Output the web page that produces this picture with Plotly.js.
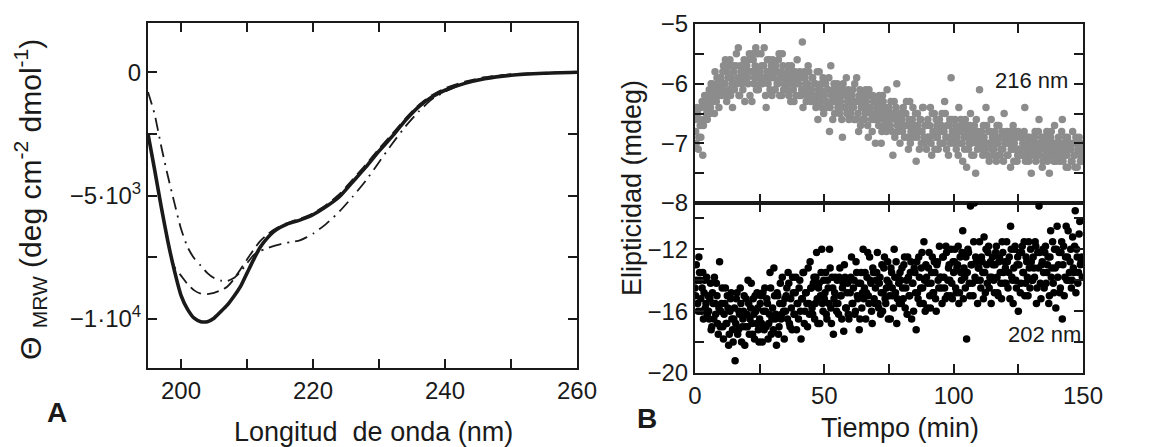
<!DOCTYPE html>
<html>
<head>
<meta charset="utf-8">
<script src="https://cdn.plot.ly/plotly-3.0.1.min.js"></script>
<style>html,body{margin:0;padding:0;background:#fff;}#chart{width:1154px;height:447px;}</style>
</head>
<body>
<div id="chart"></div>
<script>
// ---------- Panel A: CD spectra ----------
const wavelength = [195,196,197,198,199,200,201,202,203,204,205,206,207,208,209,210,211,212,213,214,215,216,217,218,219,220,222,224,226,228,230,232,234,236,238,240,243,246,250,255,260];
const spectrumSolid = [-2500,-3950,-5450,-6850,-8050,-9050,-9620,-9980,-10120,-10120,-9980,-9720,-9450,-9100,-8700,-8150,-7600,-7100,-6750,-6480,-6300,-6170,-6080,-6000,-5900,-5780,-5450,-5050,-4450,-3850,-3200,-2600,-1950,-1400,-1000,-730,-450,-260,-120,-40,0];
const spectrumDashed = [-2500,-3950,-5450,-6850,-7900,-8250,-8600,-8850,-8980,-9000,-8950,-8850,-8700,-8400,-8000,-7600,-7200,-6850,-6600,-6400,-6250,-6130,-6030,-5950,-5850,-5720,-5380,-4950,-4350,-3750,-3100,-2500,-1880,-1330,-930,-650,-380,-200,-80,-20,0];
const spectrumDashDot = [-800,-1700,-3000,-4200,-5300,-6350,-7100,-7550,-7850,-8150,-8350,-8450,-8470,-8350,-8100,-7750,-7420,-7250,-7150,-7050,-6980,-6920,-6880,-6820,-6700,-6550,-6150,-5650,-5050,-4400,-3650,-2900,-2200,-1600,-1100,-780,-450,-230,-100,-30,0];

const xRangeA = [195,260];
const yRangeA = [-12000,2000];
const xTicksA = [200,210,220,230,240,250,260];
const xTickTextA = ["200","","220","","240","","260"];
const yTicksA = [0,-2500,-5000,-7500,-10000];
const yTickTextA = ["0","","\u22125\u00b710<sup>3</sup>","","\u22121\u00b710<sup>4</sup>"];

// ---------- Panel B: kinetics ----------
const SAMPLE_STEP_MIN = 0.5;
const ellip216a = [
-6.6,-7.0,-6.5,-6.9,-6.7,-6.4,-7.2,-6.6,-6.3,-6.5,
-6.3,-6.1,-6.4,-6.0,-6.2,-6.5,-6.1,-5.9,-6.2,-6.1,
-5.9,-6.1,-5.7,-6.0,-6.2,-5.8,-6.1,-5.6,-5.9,-6.4,
-5.8,-6.0,-5.5,-5.9,-6.2,-5.7,-5.9,-6.1,-5.6,-5.8,
-5.7,-6.0,-5.5,-5.8,-6.3,-5.6,-5.9,-5.4,-5.8,-6.1,
-5.8,-5.5,-6.0,-5.7,-5.9,-6.4,-5.6,-5.8,-6.1,-5.7,
-5.6,-5.9,-6.1,-5.8,-6.0,-5.5,-5.9,-6.2,-5.7,-6.0,
-5.9,-6.1,-5.7,-6.0,-6.3,-5.8,-6.1,-5.9,-6.2,-5.6,
-6.0,-5.8,-6.2,-5.3,-6.1,-5.9,-6.3,-6.0,-5.8,-6.2,
-6.1,-5.9,-6.3,-6.0,-6.2,-6.6,-5.8,-6.1,-6.4,-5.9,
-6.2,-6.0,-6.4,-6.1,-6.8,-5.7,-6.3,-6.1,-6.5,-6.2,
-6.0,-6.3,-6.5,-6.2,-6.9,-6.1,-6.4,-5.9,-6.3,-6.6,
-6.2,-6.4,-6.1,-6.6,-6.3,-5.9,-6.5,-6.2,-6.7,-6.4,
-6.3,-6.6,-6.1,-6.4,-6.9,-6.2,-6.5,-6.8,-6.3,-6.6,
-6.5,-6.3,-6.7,-6.4,-7.0,-6.2,-6.6,-6.4,-6.8,-6.5,
-6.4,-6.7,-6.5,-7.2,-6.3,-6.6,-6.0,-6.8,-6.5,-6.7,
-6.6,-6.4,-6.9,-6.5,-6.7,-7.1,-6.3,-6.8,-6.6,-6.9,
-6.7,-7.3,-6.5,-6.8,-6.6,-7.0,-6.4,-6.9,-6.7,-7.1,
-6.6,-6.9,-6.4,-7.2,-6.8,-6.5,-6.9,-6.7,-7.1,-6.6,
-6.8,-6.5,-7.0,-6.3,-6.9,-6.7,-7.2,-6.6,-5.9,-6.8,
-6.9,-6.6,-7.1,-6.8,-6.4,-7.0,-6.7,-7.3,-6.9,-6.6,
-7.4,-6.8,-7.0,-6.5,-7.2,-6.9,-6.7,-7.5,-7.0,-6.8,
-6.1,-6.9,-7.1,-6.7,-7.0,-6.4,-7.2,-6.8,-7.0,-6.6,
-6.9,-7.1,-6.8,-7.3,-7.0,-6.7,-7.2,-6.9,-7.1,-6.5,
-7.0,-6.8,-7.2,-6.9,-7.4,-7.1,-6.7,-7.0,-6.8,-7.3,
-6.8,-7.1,-6.9,-7.2,-7.0,-6.4,-7.1,-6.9,-7.3,-7.0,
-7.5,-6.9,-7.1,-6.8,-7.2,-7.0,-6.6,-7.1,-6.9,-7.3,
-7.0,-7.2,-6.8,-7.1,-7.5,-6.9,-7.2,-7.0,-6.7,-7.3,
-7.1,-6.9,-7.3,-7.0,-6.6,-7.2,-7.0,-7.4,-6.9,-7.1,
-7.0,-7.3,-6.8,-7.2,-7.4,-7.0,-7.1,-6.9,-7.3,-7.1
];
const ellip216b = [
-6.8,-6.4,-7.1,-6.6,-6.9,-6.3,-6.7,-6.2,-6.4,-6.6,
-6.2,-6.5,-6.0,-6.3,-6.1,-5.8,-6.3,-6.0,-6.4,-5.9,
-6.2,-5.8,-6.0,-5.6,-6.3,-5.9,-5.7,-6.2,-6.0,-5.7,
-6.1,-5.7,-6.0,-5.4,-6.2,-5.8,-6.0,-5.7,-6.3,-5.9,
-5.9,-5.6,-6.2,-5.8,-5.5,-6.0,-5.7,-6.1,-5.5,-5.9,
-6.0,-5.7,-5.9,-5.4,-6.2,-5.8,-6.0,-5.6,-5.9,-6.2,
-5.8,-6.1,-5.7,-6.0,-5.6,-6.2,-5.8,-5.5,-6.1,-5.9,
-6.1,-5.8,-6.2,-5.9,-5.7,-6.0,-6.3,-5.8,-6.0,-5.9,
-6.2,-5.9,-6.1,-6.4,-5.8,-6.0,-6.2,-5.7,-6.1,-6.3,
-5.9,-6.2,-6.0,-6.4,-5.8,-6.1,-6.3,-6.0,-6.2,-6.5,
-6.0,-6.3,-6.1,-5.9,-6.4,-6.2,-6.6,-6.0,-6.3,-6.1,
-6.4,-6.1,-6.3,-6.6,-6.0,-6.4,-6.2,-6.5,-6.1,-6.3,
-6.5,-6.2,-6.4,-6.0,-6.6,-6.3,-6.8,-6.1,-6.4,-6.6,
-6.2,-6.5,-6.3,-6.7,-6.1,-6.4,-6.6,-6.2,-6.5,-7.0,
-6.4,-6.6,-6.2,-6.5,-6.8,-6.3,-6.7,-6.5,-6.1,-6.6,
-6.6,-6.3,-6.8,-6.5,-6.9,-6.4,-6.7,-6.5,-7.0,-6.6,
-6.8,-6.5,-6.7,-6.3,-6.9,-6.6,-7.0,-6.7,-6.4,-6.8,
-6.5,-6.9,-6.7,-7.1,-6.6,-6.8,-6.4,-7.0,-6.7,-6.9,
-6.9,-6.7,-7.0,-6.5,-6.8,-7.1,-6.6,-6.9,-6.8,-7.0,
-6.7,-7.0,-6.8,-6.5,-7.1,-6.9,-6.7,-7.0,-6.6,-6.9,
-7.0,-6.7,-6.9,-7.2,-6.8,-6.6,-7.0,-6.8,-7.1,-6.7,
-6.9,-7.1,-6.7,-7.0,-6.8,-7.2,-6.9,-6.6,-7.1,-6.9,
-7.0,-6.8,-7.2,-6.9,-7.1,-6.7,-7.0,-7.3,-6.8,-7.1,
-7.2,-6.9,-7.0,-6.7,-7.2,-6.9,-7.1,-6.8,-7.3,-7.0,
-6.9,-7.2,-7.0,-6.8,-7.1,-6.9,-7.3,-7.1,-6.9,-7.2,
-7.1,-6.9,-7.2,-7.0,-6.8,-7.3,-7.0,-7.2,-6.9,-7.1,
-7.2,-7.0,-6.9,-7.3,-7.1,-6.8,-7.2,-7.0,-7.4,-6.9,
-7.1,-6.9,-7.3,-7.0,-7.2,-6.8,-7.1,-7.3,-7.0,-7.2,
-7.2,-7.0,-7.1,-6.8,-7.3,-7.1,-6.9,-7.2,-7.4,-7.0,
-7.1,-7.3,-7.0,-7.2,-6.9,-7.4,-7.1,-7.2,-7.0,-7.3
];
const ellip202a = [
-14.5,-13.0,-15.5,-12.5,-14.0,-16.0,-13.5,-14.8,-15.8,-13.8,
-15.0,-16.5,-14.2,-17.0,-15.5,-13.8,-16.2,-15.0,-17.5,-12.8,
-16.0,-14.5,-17.8,-15.5,-16.8,-15.0,-18.2,-16.0,-14.8,-17.2,
-16.5,-19.2,-15.2,-17.5,-16.0,-14.5,-18.0,-16.5,-15.0,-17.0,
-16.2,-14.0,-17.5,-15.8,-16.8,-15.2,-17.8,-16.0,-14.8,-17.2,
-16.5,-15.0,-18.0,-16.0,-14.5,-17.0,-15.5,-16.8,-13.5,-17.5,
-15.8,-13.2,-16.5,-18.2,-15.0,-17.0,-14.2,-16.2,-15.5,-17.8,
-16.0,-14.5,-13.5,-16.8,-15.2,-17.2,-14.8,-16.2,-13.8,-15.5,
-16.5,-14.0,-17.8,-15.2,-13.5,-16.0,-14.8,-17.0,-15.5,-12.8,
-14.5,-16.2,-13.8,-15.5,-12.2,-16.8,-14.2,-15.0,-12.0,-16.0,
-15.2,-13.5,-16.5,-14.5,-12.0,-15.8,-13.8,-17.5,-14.8,-15.5,
-14.0,-16.2,-13.2,-15.0,-14.5,-17.3,-13.8,-15.8,-14.2,-16.5,
-14.8,-12.5,-15.5,-14.0,-16.0,-13.5,-15.2,-17.2,-14.2,-15.8,
-12.0,-14.5,-16.5,-13.8,-15.0,-12.5,-14.2,-16.8,-13.5,-15.5,
-14.0,-12.2,-15.8,-13.8,-14.8,-16.0,-13.2,-15.2,-14.5,-12.8,
-14.2,-16.5,-13.5,-15.0,-12.0,-14.8,-16.8,-13.8,-15.5,-14.0,
-13.2,-15.2,-12.5,-14.5,-16.2,-13.8,-15.0,-12.8,-14.2,-16.0,
-13.5,-17.2,-14.8,-12.5,-15.5,-13.2,-14.5,-11.5,-16.0,-13.8,
-14.2,-12.2,-15.8,-13.5,-14.8,-12.8,-15.2,-13.0,-14.0,-11.8,
-13.8,-15.5,-12.5,-14.5,-11.8,-15.0,-13.2,-14.0,-12.0,-15.2,
-13.5,-12.0,-14.8,-13.0,-15.5,-12.5,-14.0,-10.8,-13.2,-14.5,
-17.8,-12.0,-14.2,-9.2,-13.0,-15.0,-9.0,-12.5,-14.0,-13.2,
-11.5,-14.5,-12.8,-15.2,-13.5,-12.0,-14.2,-11.8,-13.8,-15.5,
-12.5,-14.0,-13.0,-11.8,-14.8,-12.8,-13.5,-15.2,-12.2,-14.2,
-13.2,-11.5,-14.5,-12.5,-10.5,-13.8,-15.5,-12.0,-14.0,-13.0,
-16.0,-12.2,-14.2,-11.8,-13.5,-15.0,-12.5,-13.8,-11.5,-14.5,
-12.8,-14.0,-13.2,-11.5,-15.5,-12.2,-9.2,-14.2,-13.0,-12.0,
-14.5,-11.8,-13.5,-12.5,-15.0,-10.8,-13.2,-14.2,-12.0,-15.8,
-10.5,-13.0,-14.8,-12.2,-16.5,-11.8,-13.8,-10.5,-12.5,-14.0,
-12.8,-14.5,-11.2,-13.5,-9.5,-12.0,-14.2,-11.0,-13.0,-12.5
];
const ellip202b = [
-15.0,-14.0,-16.0,-13.5,-15.2,-14.5,-16.5,-14.0,-15.5,-16.2,
-16.0,-15.2,-17.2,-14.8,-16.5,-15.5,-14.2,-16.8,-15.8,-17.0,
-15.5,-17.0,-16.2,-14.5,-16.8,-15.8,-17.5,-15.2,-16.5,-18.0,
-15.8,-16.8,-14.8,-17.2,-16.2,-15.5,-17.0,-16.0,-18.2,-15.2,
-17.0,-15.5,-16.5,-14.2,-17.5,-16.2,-15.0,-16.8,-15.8,-18.0,
-15.5,-16.8,-14.8,-17.2,-16.0,-15.2,-17.8,-16.2,-14.5,-16.5,
-17.2,-15.0,-16.2,-14.8,-17.5,-15.5,-16.5,-13.8,-16.0,-15.2,
-15.0,-16.5,-14.2,-17.0,-15.8,-13.8,-16.2,-14.8,-17.2,-15.5,
-14.5,-16.0,-15.2,-13.5,-16.8,-14.8,-15.5,-13.2,-16.2,-14.5,
-15.8,-14.2,-16.5,-13.8,-15.2,-14.5,-16.8,-13.5,-15.5,-14.0,
-14.8,-16.2,-14.0,-15.5,-13.2,-16.8,-14.5,-15.2,-13.8,-16.0,
-15.5,-13.8,-15.0,-16.5,-14.2,-13.0,-15.8,-14.8,-16.2,-14.0,
-13.8,-15.5,-14.5,-16.2,-12.8,-15.0,-14.2,-16.5,-13.5,-14.8,
-15.2,-13.5,-14.8,-12.2,-15.5,-14.0,-16.0,-13.2,-15.2,-14.5,
-13.5,-15.5,-14.2,-16.2,-13.0,-14.8,-12.5,-15.5,-14.0,-16.5,
-15.0,-13.2,-14.5,-15.8,-13.8,-12.8,-15.2,-14.2,-13.5,-15.5,
-14.5,-13.0,-15.8,-14.0,-12.5,-15.0,-13.5,-16.5,-14.2,-13.2,
-14.8,-12.8,-15.2,-13.8,-14.5,-12.2,-15.5,-14.0,-13.0,-15.8,
-13.2,-15.0,-14.2,-12.5,-14.8,-13.5,-16.0,-12.8,-14.5,-13.8,
-14.5,-12.5,-13.8,-15.2,-12.2,-14.0,-13.0,-15.0,-14.2,-12.8,
-12.8,-14.5,-13.2,-11.8,-14.8,-13.5,-12.2,-15.2,-13.8,-12.5,
-13.5,-12.2,-15.0,-13.0,-14.2,-11.5,-13.8,-12.8,-15.5,-13.2,
-14.0,-12.5,-13.5,-11.2,-14.8,-13.0,-12.2,-14.5,-12.8,-13.8,
-13.0,-14.8,-12.2,-13.8,-15.0,-12.5,-14.2,-11.5,-13.5,-12.8,
-14.2,-12.8,-13.5,-15.2,-12.0,-14.0,-13.2,-11.8,-14.5,-12.5,
-13.0,-14.8,-12.2,-13.5,-11.5,-14.2,-12.8,-15.0,-13.2,-12.0,
-14.0,-12.5,-13.8,-11.8,-14.5,-13.2,-12.2,-15.2,-12.8,-13.5,
-12.2,-14.2,-13.0,-15.5,-12.5,-13.8,-11.5,-14.8,-13.2,-12.0,
-13.8,-12.2,-14.5,-11.5,-13.0,-15.0,-12.5,-14.0,-10.8,-13.5,
-12.0,-14.0,-13.2,-11.8,-14.8,-12.5,-13.5,-10.2,-12.8,-13.8
];
const xRangeB = [0,150];
const yRangeTop = [-8,-5];
const yRangeBot = [-20,-9];
const xTicksB = [0,25,50,75,100,125,150];
const xTickTextB = ["0","","50","","100","","150"];
const yTicksTop = [-5,-5.5,-6,-6.5,-7,-7.5,-8];
const yTickTextTop = ["\u22125","","\u22126","","\u22127","","\u22128"];
const yTicksBot = [-10,-12,-14,-16,-18,-20];
const yTickTextBot = ["","\u221212","","\u221216","","\u221220"];

// two interleaved acquisitions, each sampled every SAMPLE_STEP_MIN minutes
const timesA = arr => arr.map((_, i) => i * SAMPLE_STEP_MIN);
const timesB = arr => arr.map((_, i) => i * SAMPLE_STEP_MIN + SAMPLE_STEP_MIN / 2);

const FONT = "Liberation Sans, Arial, Helvetica, sans-serif";
const INK = "#1a1a1a";
const W = 1154, H = 447;
const px = x => x / W;
const py = y => (H - y) / H;

const traces = [
  {x: wavelength, y: spectrumDashDot, xaxis:'x', yaxis:'y', mode:'lines',
   line:{color:INK, width:1.8, dash:'13px,6px,2px,6px', shape:'spline', smoothing:0.6}},
  {x: wavelength, y: spectrumDashed, xaxis:'x', yaxis:'y', mode:'lines',
   line:{color:INK, width:1.8, dash:'12px,6px', shape:'spline', smoothing:0.6}},
  {x: wavelength, y: spectrumSolid, xaxis:'x', yaxis:'y', mode:'lines',
   line:{color:INK, width:3.6, shape:'spline', smoothing:0.6}},
  {x: timesA(ellip216a).concat(timesB(ellip216b)), y: ellip216a.concat(ellip216b),
   xaxis:'x2', yaxis:'y2', mode:'markers', marker:{color:'#8c8c8c', size:7.5}},
  {x: timesA(ellip202a).concat(timesB(ellip202b)), y: ellip202a.concat(ellip202b),
   xaxis:'x3', yaxis:'y3', mode:'markers', marker:{color:'#000000', size:7.5}}
];

const axBase = {
  showgrid:false, zeroline:false, showline:true, linecolor:INK, linewidth:2,
  mirror:'allticks', ticks:'inside', ticklen:9, tickwidth:2, tickcolor:INK,
  tickmode:'array', tickfont:{family:FONT, size:24, color:INK}, fixedrange:true
};

const layout = {
  width:W, height:H, margin:{l:0,r:0,t:0,b:0},
  paper_bgcolor:'#ffffff', plot_bgcolor:'rgba(0,0,0,0)', showlegend:false,
  font:{family:FONT, color:INK},
  xaxis: Object.assign({}, axBase, {domain:[px(148), px(577)], range:xRangeA, anchor:'y',
          tickvals:xTicksA, ticktext:xTickTextA}),
  yaxis: Object.assign({}, axBase, {domain:[py(368), py(23)], range:yRangeA, anchor:'x',
          tickvals:yTicksA, ticktext:yTickTextA}),
  xaxis2: Object.assign({}, axBase, {domain:[px(695), px(1083)], range:xRangeB, anchor:'y2',
          tickvals:xTicksB, ticktext:xTickTextB, showticklabels:false}),
  yaxis2: Object.assign({}, axBase, {domain:[py(203), py(24)], range:yRangeTop, anchor:'x2',
          tickvals:yTicksTop, ticktext:yTickTextTop}),
  xaxis3: Object.assign({}, axBase, {domain:[px(695), px(1083)], range:xRangeB, anchor:'y3',
          tickvals:xTicksB, ticktext:xTickTextB}),
  yaxis3: Object.assign({}, axBase, {domain:[py(373), py(203)], range:yRangeBot, anchor:'x3',
          tickvals:yTicksBot, ticktext:yTickTextBot}),
  annotations: [
    {xref:'paper', yref:'paper', x:px(30), y:py(200), textangle:-90, showarrow:false,
     xanchor:'center', yanchor:'middle',
     text:'\u0398 <sub>MRW</sub> (deg cm<sup>-2</sup> dmol<sup>-1</sup>)',
     font:{family:FONT, size:30, color:INK}},
    {xref:'paper', yref:'paper', x:px(373), y:py(432), showarrow:false,
     xanchor:'center', yanchor:'middle', text:'Longitud&nbsp;&nbsp;de onda (nm)',
     font:{family:FONT, size:27, color:INK}},
    {xref:'paper', yref:'paper', x:px(57), y:py(412), showarrow:false,
     xanchor:'center', yanchor:'middle', text:'<b>A</b>',
     font:{family:FONT, size:28, color:INK}},
    {xref:'paper', yref:'paper', x:px(632), y:py(188), textangle:-90, showarrow:false,
     xanchor:'center', yanchor:'middle', text:'Elipticidad (mdeg)',
     font:{family:FONT, size:27, color:INK}},
    {xref:'paper', yref:'paper', x:px(900), y:py(428), showarrow:false,
     xanchor:'center', yanchor:'middle', text:'Tiempo (min)',
     font:{family:FONT, size:27, color:INK}},
    {xref:'paper', yref:'paper', x:px(647), y:py(418), showarrow:false,
     xanchor:'center', yanchor:'middle', text:'<b>B</b>',
     font:{family:FONT, size:28, color:INK}},
    {xref:'x2', yref:'y2', x:130, y:-5.94, showarrow:false,
     xanchor:'center', yanchor:'middle', text:'216 nm',
     font:{family:FONT, size:22, color:INK}},
    {xref:'x3', yref:'y3', x:135.3, y:-17.5, showarrow:false,
     xanchor:'center', yanchor:'middle', text:'202 nm',
     font:{family:FONT, size:22, color:INK}}
  ]
};

Plotly.newPlot('chart', traces, layout, {staticPlot:true, displayModeBar:false});
</script>
</body>
</html>
